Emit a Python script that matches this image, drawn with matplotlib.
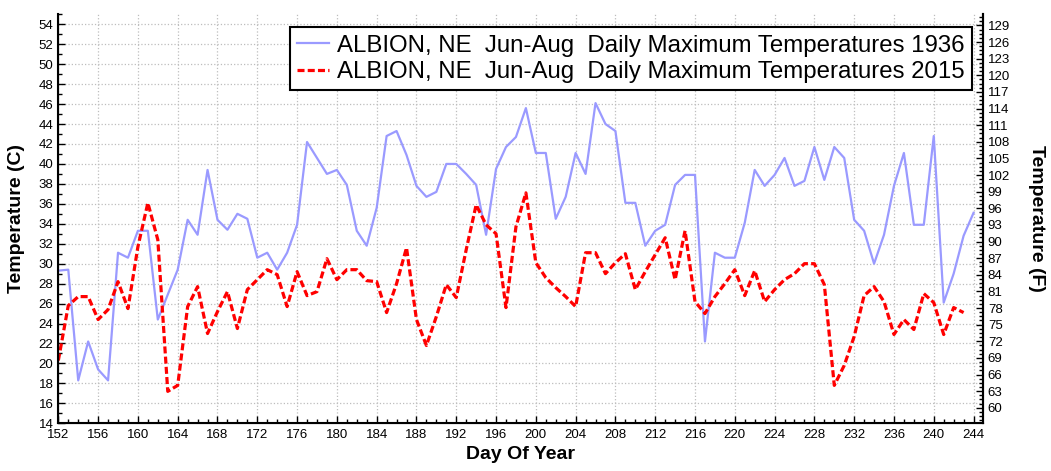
import matplotlib
matplotlib.use("Agg")
import matplotlib.pyplot as plt
from matplotlib.ticker import MultipleLocator

plt.rcParams['font.family'] = ['Liberation Sans', 'DejaVu Sans']

# ---------------- data ----------------
days_1936 = list(range(152, 245))
tmax_1936 = [29.3, 29.4, 18.3, 22.2, 19.4, 18.3, 31.1, 30.6, 33.3, 33.3,
             24.4, 26.9, 29.4, 34.4, 32.9, 39.4, 34.4, 33.4, 35.0, 34.5,
             30.6, 31.1, 29.4, 31.1, 33.9, 42.2, 40.6, 39.0, 39.4, 37.9,
             33.3, 31.8, 35.6, 42.8, 43.3, 40.9, 37.8, 36.7, 37.2, 40.0,
             40.0, 39.0, 37.9, 32.9, 39.5, 41.7, 42.7, 45.6, 41.1, 41.1,
             34.5, 36.7, 41.1, 39.0, 46.1, 44.0, 43.3, 36.1, 36.1, 31.8,
             33.3, 33.9, 37.9, 38.9, 38.9, 22.2, 31.1, 30.6, 30.6, 34.1,
             39.4, 37.8, 38.9, 40.6, 37.8, 38.3, 41.7, 38.4, 41.7, 40.6,
             34.4, 33.3, 30.0, 32.9, 37.8, 41.1, 33.9, 33.9, 42.8, 26.1,
             29.0, 32.8, 35.1]

days_2015 = list(range(152, 244))
tmax_2015 = [20.3, 25.8, 26.7, 26.7, 24.4, 25.4, 28.2, 25.5, 31.7, 36.1,
             32.4, 17.2, 17.8, 25.7, 27.7, 23.0, 25.2, 27.2, 23.5, 27.4,
             28.4, 29.4, 28.9, 25.7, 29.2, 26.8, 27.2, 30.5, 28.4, 29.4,
             29.4, 28.3, 28.2, 25.1, 28.0, 31.6, 24.4, 21.8, 24.7, 27.9,
             26.6, 31.4, 35.9, 33.9, 33.0, 25.6, 33.7, 37.1, 30.1, 28.6,
             27.6, 26.7, 25.7, 31.1, 31.1, 29.0, 30.1, 31.0, 27.4, 29.2,
             30.9, 32.6, 28.4, 33.3, 26.2, 25.0, 26.7, 28.0, 29.4, 26.8,
             29.3, 26.2, 27.4, 28.4, 29.0, 30.0, 30.0, 27.9, 17.8, 19.8,
             22.7, 26.8, 27.7, 26.2, 22.9, 24.4, 23.4, 27.0, 26.1, 22.9,
             25.6, 25.1]

label_1936 = "ALBION, NE  Jun-Aug  Daily Maximum Temperatures 1936"
label_2015 = "ALBION, NE  Jun-Aug  Daily Maximum Temperatures 2015"

c_lo, c_hi = 14, 55

# ---------------- figure ----------------
fig = plt.figure(figsize=(10.51, 4.71), dpi=100)
ax = fig.add_axes([0.0555, 0.1013, 0.8798, 0.8683])

ax.plot(days_1936, tmax_1936, color="#9a9aff", lw=1.6, label=label_1936)
red, = ax.plot(days_2015, tmax_2015, color="#ff0000", lw=2.3, label=label_2015)
red.set_dashes((2.2, 1.0))

ax.set_xlim(152, 244.95)
ax.set_ylim(c_lo, c_hi)
ax.xaxis.set_major_locator(MultipleLocator(4))
ax.xaxis.set_minor_locator(MultipleLocator(1))
ax.set_yticks(range(14, 55, 2))
ax.yaxis.set_minor_locator(MultipleLocator(1))

ax.grid(True, which="major", color="#bdbdbd", linestyle=":", lw=0.9)
ax.tick_params(which="both", direction="in", labelsize=9.5, width=1)
ax.tick_params(which="major", length=5)
ax.tick_params(which="minor", length=3)
ax.tick_params(axis="x", pad=4)

for s in ["left", "bottom", "right"]:
    ax.spines[s].set_linewidth(1.5)
ax.spines["top"].set_visible(False)

ax.set_xlabel("Day Of Year", fontsize=14, fontweight="bold", labelpad=4)
ax.set_ylabel("Temperature (C)", fontsize=14, fontweight="bold", labelpad=10)

# right axis in Fahrenheit
ax2 = ax.twinx()
ax2.set_ylim(c_lo * 9 / 5 + 32, c_hi * 9 / 5 + 32)
ax2.set_yticks(range(60, 130, 3))
ax2.yaxis.set_minor_locator(MultipleLocator(0.75))
ax2.tick_params(which="both", direction="in", labelsize=9.5, width=1)
ax2.tick_params(which="major", length=5)
ax2.tick_params(which="minor", length=3)
ax2.spines["top"].set_visible(False)
ax2.spines["right"].set_linewidth(1.5)
ax2.set_ylabel("Temperature (F)", fontsize=14, fontweight="bold",
               rotation=270, labelpad=25)

leg = ax.legend(loc="upper right", bbox_to_anchor=(0.988, 0.968),
                borderaxespad=0, fontsize=17.3, fancybox=False,
                edgecolor="black", framealpha=1, handlelength=1.3,
                handletextpad=0.35, labelspacing=0.18, borderpad=0.3)
leg.get_frame().set_linewidth(1.5)

fig.savefig("out.png", dpi=100)
